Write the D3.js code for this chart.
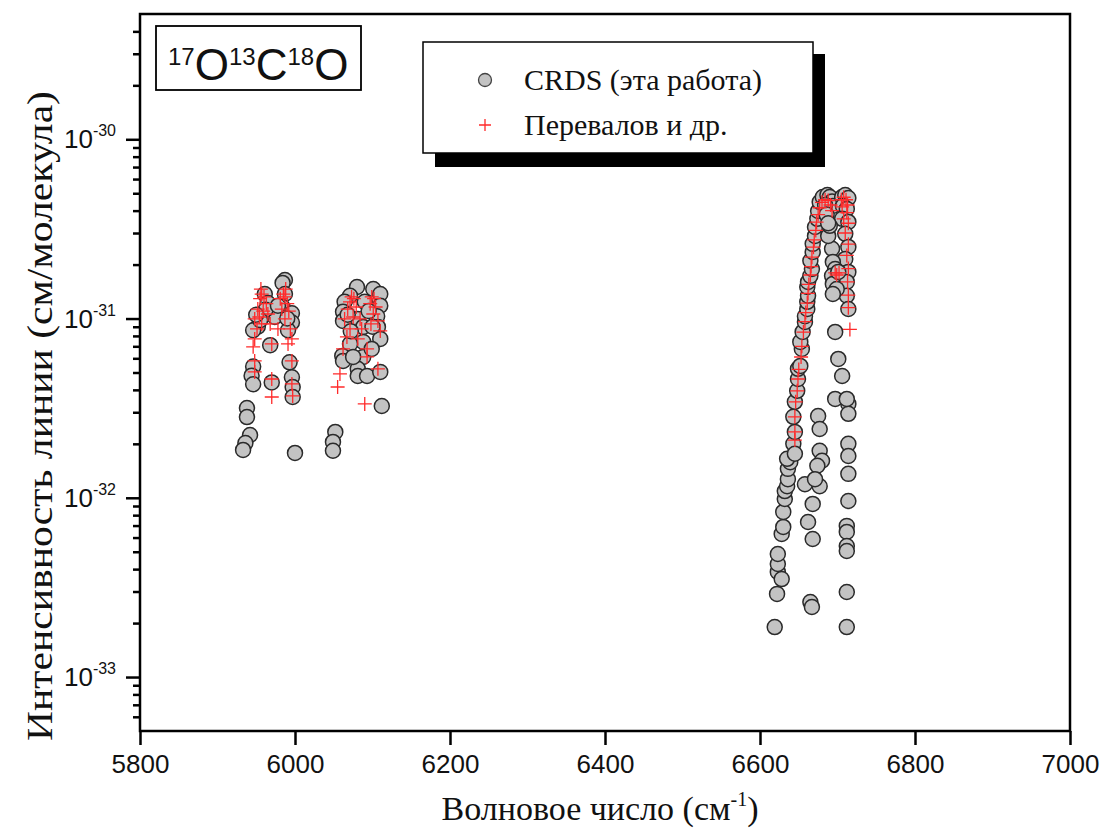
<!DOCTYPE html>
<html>
<head>
<meta charset="utf-8">
<script src="https://cdn.jsdelivr.net/npm/d3@7"></script>
<style>
  body { margin: 0; background: #fff; }
  .tick text { font-family: "Liberation Sans", Arial, sans-serif; }
</style>
</head>
<body>
<div class="canvas"></div>
<script>
// data: [wavenumber cm-1, intensity cm/molecule]
const crdsBand1 = [
  [5987,1.64e-31],[5984,1.58e-31],[5961,1.37e-31],[5987,1.37e-31],[5965,1.22e-31],
  [5984,1.16e-31],[5996,1.07e-31],[5974,1.02e-31],[5957,1.02e-31],[5996,9.5e-32],
  [5952,9.0e-32],[5946,8.6e-32],[5991,8.6e-32],[5968,7.1e-32],[5993,5.7e-32],
  [5946,5.4e-32],[5944,4.8e-32],[5996,4.7e-32],[5946,4.3e-32],[5970,4.4e-32],
  [5997,4.15e-32],[5997,3.65e-32],[5938,3.17e-32],[5938,2.82e-32],[5942,2.24e-32],
  [5936,2.02e-32],[5933,1.85e-32],[6000,1.78e-32],[5962,1.12e-31],[5978,1.18e-31],
  [5955,9.8e-32],[5990,1.0e-31],[5950,1.05e-31]
];
const crdsBand2 = [
  [6080,1.50e-31],[6101,1.46e-31],[6071,1.34e-31],[6110,1.37e-31],[6064,1.24e-31],
  [6090,1.24e-31],[6062,1.09e-31],[6110,1.18e-31],[6106,1.03e-31],[6062,9.7e-32],
  [6081,9.95e-32],[6088,8.98e-32],[6107,8.98e-32],[6110,7.7e-32],[6088,7.41e-32],
  [6071,7.22e-32],[6061,6.19e-32],[6062,5.8e-32],[6088,6.11e-32],[6081,5.24e-32],
  [6081,4.78e-32],[6093,4.78e-32],[6110,5.04e-32],[6112,3.25e-32],[6052,2.33e-32],
  [6049,2.05e-32],[6049,1.83e-32],[6099,6.77e-32],[6075,6.11e-32],[6068,1.05e-31],
  [6095,1.1e-31],[6100,9.0e-32],[6072,8.5e-32]
];
const crdsBand3 = [
  [6619,1.90e-33],[6622,2.91e-33],[6623,3.86e-33],[6623,4.27e-33],[6623,4.86e-33],
  [6628,3.52e-33],[6628,6.29e-33],[6630,6.88e-33],[6630,8.34e-33],[6632,9.85e-33],
  [6632,1.09e-32],[6635,1.16e-32],[6636,1.27e-32],[6636,1.45e-32],[6639,1.58e-32],
  [6635,1.65e-32],[6643,2.00e-32],[6645,2.33e-32],[6643,2.83e-32],[6645,1.76e-32],
  [6675,2.86e-32],[6677,2.42e-32],[6677,1.83e-32],[6680,1.61e-32],[6674,1.51e-32],
  [6658,1.19e-32],[6677,1.16e-32],[6671,1.27e-32],[6668,9.24e-33],[6662,7.33e-33],
  [6668,5.89e-33],[6665,2.62e-33],[6667,2.46e-33],
  [6714,3.34e-32],[6714,2.94e-32],[6714,2.00e-32],[6714,1.71e-32],[6714,1.36e-32],
  [6714,9.60e-33],[6712,6.97e-33],[6712,6.45e-33],[6712,5.38e-33],[6712,5.05e-33],
  [6712,2.98e-33],[6712,1.90e-33],
  [6645,3.43e-32],[6648,3.95e-32],[6649,4.60e-32],[6649,5.24e-32],[6652,5.44e-32],
  [6654,6.77e-32],[6652,7.41e-32],[6655,8.42e-32],[6658,9.57e-32],[6658,1.03e-31],
  [6661,1.13e-31],[6661,1.24e-31],[6662,1.34e-31],[6661,1.50e-31],[6662,1.60e-31],
  [6665,1.73e-31],[6667,1.89e-31],[6665,2.10e-31],[6668,2.35e-31],[6668,2.61e-31],
  [6671,2.89e-31],[6671,3.24e-31],[6674,3.60e-31],[6675,3.98e-31],[6677,4.47e-31],
  [6681,4.76e-31],[6687,4.89e-31],[6690,4.76e-31],[6693,4.5e-31],[6694,4.25e-31],
  [6706,4.76e-31],[6710,4.89e-31],[6714,4.7e-31],[6707,4.25e-31],[6712,4.09e-31],
  [6706,3.60e-31],[6714,3.46e-31],[6710,2.97e-31],[6714,2.51e-31],[6710,2.15e-31],
  [6714,1.82e-31],[6712,1.60e-31],[6712,1.34e-31],[6714,1.13e-31],
  [6693,2.45e-31],[6694,2.07e-31],[6697,1.89e-31],[6693,1.73e-31],[6694,1.56e-31],
  [6699,1.46e-31],[6694,1.37e-31],[6701,1.82e-31],[6688,2.89e-31],[6690,3.29e-31],
  [6697,8.42e-32],[6701,5.95e-32],[6706,4.78e-32],[6697,3.56e-32],[6712,3.56e-32],
  [6684,4.3e-31],[6686,3.8e-31],[6688,3.4e-31]
];
const perevalov1 = [
  [5948,9.95e-32],[5952,1.13e-31],[5955,1.29e-31],[5957,1.37e-31],[5960,1.32e-31],
  [5963,1.21e-31],[5959,1.10e-31],[5954,1.02e-31],[5951,8.75e-32],[5948,7.7e-32],
  [5946,6.95e-32],[5948,5.8e-32],[5948,5.04e-32],[5965,1.06e-31],[5968,9.33e-32],
  [5970,7.22e-32],[5970,4.6e-32],[5970,3.65e-32],[5981,1.29e-31],[5985,1.37e-31],
  [5987,1.32e-31],[5990,1.21e-31],[5992,1.10e-31],[5983,1.13e-31],[5987,9.95e-32],
  [5994,8.75e-32],[5996,7.7e-32],[5991,7.22e-32],[5996,5.8e-32],[5996,4.32e-32],
  [5997,3.7e-32],[5978,8.75e-32],[5957,9.33e-32],[5988,1.46e-31],[5956,1.46e-31]
];
const perevalov2 = [
  [6064,9.95e-32],[6068,1.13e-31],[6071,1.24e-31],[6073,1.32e-31],[6076,1.29e-31],
  [6079,1.16e-31],[6075,1.02e-31],[6071,8.75e-32],[6067,7.9e-32],[6062,6.77e-32],
  [6058,4.91e-32],[6055,4.15e-32],[6084,9.95e-32],[6086,8.75e-32],[6093,6.77e-32],
  [6093,6.11e-32],[6090,3.34e-32],[6097,1.21e-31],[6099,1.32e-31],[6102,1.29e-31],
  [6104,1.16e-31],[6101,1.06e-31],[6107,9.7e-32],[6110,8.53e-32],[6107,5.24e-32],
  [6098,9.33e-32],[6081,7.7e-32]
];
const perevalov3 = [
  [6645,2.1e-32],[6645,2.33e-32],[6645,2.83e-32],[6646,3.43e-32],[6648,3.95e-32],
  [6649,4.6e-32],[6650,5.2e-32],[6653,6.1e-32],[6654,7.0e-32],[6656,8.4e-32],
  [6658,9.6e-32],[6659,1.08e-31],[6661,1.22e-31],[6662,1.38e-31],[6663,1.55e-31],
  [6665,1.75e-31],[6666,1.95e-31],[6667,2.2e-31],[6669,2.5e-31],[6670,2.75e-31],
  [6672,3.1e-31],[6673,3.45e-31],[6675,3.8e-31],[6677,4.15e-31],[6680,4.45e-31],
  [6684,4.6e-31],[6688,4.55e-31],[6691,4.3e-31],[6693,4.0e-31],
  [6705,4.6e-31],[6708,4.75e-31],[6711,4.6e-31],[6713,4.3e-31],[6706,4.2e-31],
  [6712,3.9e-31],[6708,3.6e-31],[6714,3.4e-31],[6710,3.0e-31],[6714,2.6e-31],
  [6712,2.25e-31],[6714,1.9e-31],[6713,1.6e-31],[6714,1.35e-31],[6714,1.15e-31],
  [6716,8.7e-32],[6697,1.8e-31],[6699,1.75e-31],[6702,1.8e-31]
];
const xTicks = [5800, 6000, 6200, 6400, 6600, 6800, 7000];
const yExponents = [-33, -32, -31, -30];
const legendLabels = ['CRDS (эта работа)', 'Перевалов и др.'];

const crds = [...crdsBand1, ...crdsBand2, ...crdsBand3];
const perevalov = [...perevalov1, ...perevalov2, ...perevalov3];

const svg = d3.select('.canvas')
  .append('svg')
    .attr('width', 1103)
    .attr('height', 832);

// plot area edges
const margin = {left: 140, right: 1070, top: 14, bottom: 731};

const x = d3.scaleLinear().domain([5800, 7000]).range([margin.left, margin.right]);
const y = d3.scaleLog().domain([5e-34, 5e-30]).range([margin.bottom, margin.top]);

// minor log ticks 2..9 per decade
const minor = [];
for (let e = -34; e <= -30; e++) {
  for (let m = 2; m <= 9; m++) {
    const v = m * Math.pow(10, e);
    if (v >= 5e-34 && v <= 5e-30) minor.push(v);
  }
}

// points
svg.append('g').selectAll('circle')
  .data(crds)
  .enter().append('circle')
    .attr('cx', d => x(d[0]))
    .attr('cy', d => y(d[1]))
    .attr('r', 7.5)
    .attr('fill', '#c3c3c3')
    .attr('stroke', '#2a2a2a')
    .attr('stroke-width', 1.5);

const cross = 7;
svg.append('g').selectAll('path')
  .data(perevalov)
  .enter().append('path')
    .attr('d', d => {
      const cx = x(d[0]), cy = y(d[1]);
      return `M${cx - cross},${cy}H${cx + cross}M${cx},${cy - cross}V${cy + cross}`;
    })
    .attr('stroke', '#ff2a2a')
    .attr('stroke-width', 1.3)
    .attr('fill', 'none');

// axes
const xAxis = d3.axisBottom(x).tickValues(xTicks).tickFormat(d3.format('d'))
  .tickSize(14).tickSizeOuter(0).tickPadding(10);
const xAxisGroup = svg.append('g').attr('transform', `translate(0, ${margin.bottom})`).call(xAxis);
xAxisGroup.selectAll('text').attr('font-size', 26).attr('fill', '#111');

const yMinor = d3.axisLeft(y).tickValues(minor).tickSize(7).tickFormat('').tickSizeOuter(0);
svg.append('g').attr('transform', `translate(${margin.left}, 0)`).call(yMinor);

const yAxis = d3.axisLeft(y).tickValues(yExponents.map(e => Math.pow(10, e)))
  .tickSize(14).tickSizeOuter(0).tickFormat('');
svg.append('g').attr('transform', `translate(${margin.left}, 0)`).call(yAxis);

svg.selectAll('.tick line').attr('stroke', '#000').attr('stroke-width', 2.5);
svg.selectAll('.domain').remove();

// y tick labels 10^n
yExponents.forEach(e => {
  const t = svg.append('text')
    .attr('x', 116)
    .attr('y', y(Math.pow(10, e)) + 9)
    .attr('text-anchor', 'end')
    .attr('font-family', '"Liberation Sans", Arial, sans-serif')
    .attr('fill', '#111');
  t.append('tspan').attr('font-size', 26).text('10');
  t.append('tspan').attr('font-size', 16).attr('dy', -12).text(String(e));
});

// frame
svg.append('rect')
  .attr('x', margin.left).attr('y', margin.top)
  .attr('width', margin.right - margin.left).attr('height', margin.bottom - margin.top)
  .attr('fill', 'none').attr('stroke', '#000').attr('stroke-width', 2.5);

// title box
svg.append('rect')
  .attr('x', 156).attr('y', 26).attr('width', 205).attr('height', 64)
  .attr('fill', '#fff').attr('stroke', '#000').attr('stroke-width', 1.8);
const title = svg.append('text')
  .attr('x', 168).attr('y', 80)
  .attr('font-family', '"Liberation Sans", Arial, sans-serif')
  .attr('fill', '#111');
[['17', 'O'], ['13', 'C'], ['18', 'O']].forEach(p => {
  title.append('tspan').attr('font-size', 24).attr('dy', -15).text(p[0]);
  title.append('tspan').attr('font-size', 44).attr('dy', 15).text(p[1]);
});

// legend with shadow
svg.append('rect')
  .attr('x', 435).attr('y', 54).attr('width', 390).attr('height', 113)
  .attr('fill', '#000');
svg.append('rect')
  .attr('x', 423).attr('y', 42).attr('width', 390).attr('height', 111)
  .attr('fill', '#fff').attr('stroke', '#000').attr('stroke-width', 1.5);
svg.append('circle')
  .attr('cx', 485).attr('cy', 80).attr('r', 6.5)
  .attr('fill', '#c3c3c3').attr('stroke', '#444').attr('stroke-width', 1.3);
svg.append('path')
  .attr('d', 'M479,125H491M485,119V131')
  .attr('stroke', '#ff2a2a').attr('stroke-width', 1.3);
legendLabels.forEach((l, i) => {
  svg.append('text')
    .attr('x', 524).attr('y', 90 + i * 45)
    .attr('font-family', '"Liberation Serif", "Times New Roman", serif')
    .attr('font-size', 30)
    .attr('fill', '#111')
    .text(l);
});

// axis titles
svg.append('text')
  .attr('transform', 'translate(52, 416) rotate(-90)')
  .attr('text-anchor', 'middle')
  .attr('font-family', '"Liberation Serif", "Times New Roman", serif')
  .attr('font-size', 35)
  .attr('textLength', 650)
  .attr('lengthAdjust', 'spacingAndGlyphs')
  .attr('fill', '#111')
  .text('Интенсивность линии (см/молекула)');

const xt = svg.append('text')
  .attr('x', 600).attr('y', 820)
  .attr('text-anchor', 'middle')
  .attr('font-family', '"Liberation Serif", "Times New Roman", serif')
  .attr('font-size', 34)
  .attr('fill', '#111');
xt.append('tspan').text('Волновое число (см');
xt.append('tspan').attr('font-size', 20).attr('dy', -14).text('-1');
xt.append('tspan').attr('dy', 14).text(')');
</script>
</body>
</html>
